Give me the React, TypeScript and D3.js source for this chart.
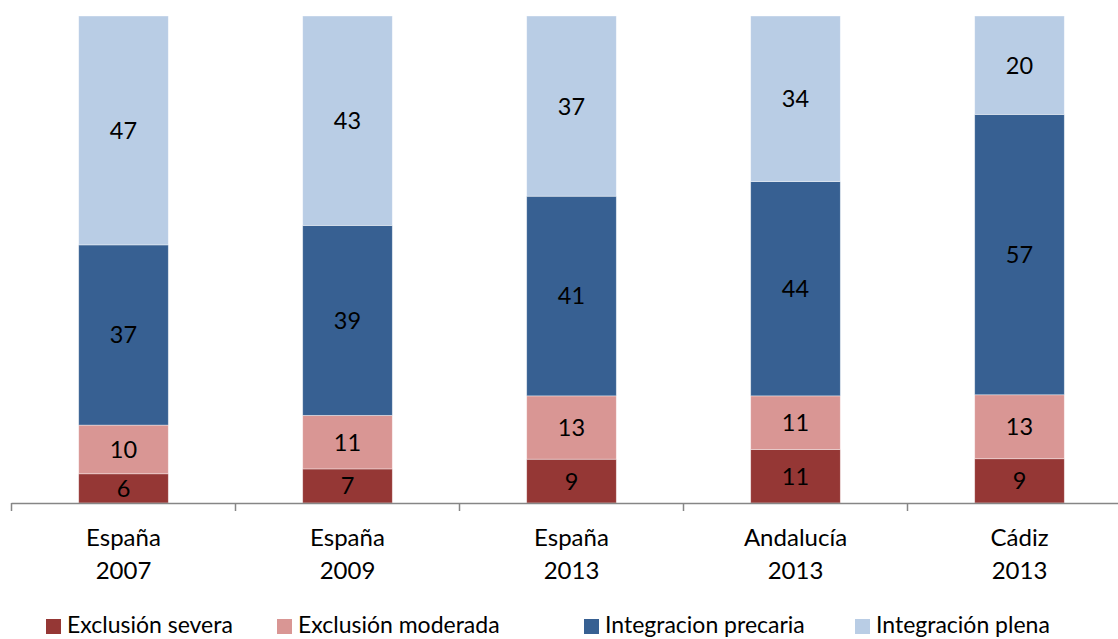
import React from "react";
import * as d3 from "d3";

const categories = [["España", "2007"], ["España", "2009"], ["España", "2013"], ["Andalucía", "2013"], ["Cádiz", "2013"]];
const seriesNames = ["Exclusión severa", "Exclusión moderada", "Integracion precaria", "Integración plena"];
const exclusionSevera = [6, 7, 9, 11, 9];
const exclusionModerada = [10, 11, 13, 11, 13];
const integracionPrecaria = [37, 39, 41, 44, 57];
const integracionPlena = [47, 43, 37, 34, 20];
const colors = ["#953735", "#D99694", "#376092", "#B9CDE5"];

const W = 1118, H = 639;
const FONT = "Lato, 'Open Sans', sans-serif";

export default function App() {
  const seriesValues = [exclusionSevera, exclusionModerada, integracionPrecaria, integracionPlena];
  const rows = categories.map((c, i) => {
    const r: any = { key: i };
    seriesNames.forEach((s, j) => (r[s] = seriesValues[j][i]));
    return r;
  });
  const stack = d3.stack<any>().keys(seriesNames).offset(d3.stackOffsetExpand);
  const stacked = stack(rows);

  const x = d3.scaleBand<number>().domain(d3.range(categories.length)).range([11.5, 1131.5]).paddingInner(0.6).paddingOuter(0.3);
  const y = d3.scaleLinear().domain([0, 1]).range([503, 16]);
  const step = x.step();
  const tickXs = d3.range(categories.length + 1).map((i) => 11.5 + i * step);

  const legendX = [46, 277, 584, 855];

  return (
    <svg width={W} height={H} style={{ position: "absolute", left: 0, top: 0, background: "#fff" }}>
      {stacked.map((s, j) =>
        s.map((d, i) => {
          const x0 = x(i)!;
          const y0 = y(d[1]);
          const y1 = y(d[0]);
          return (
            <g key={`${j}-${i}`}>
              <rect x={x0} y={y0} width={x.bandwidth()} height={y1 - y0} fill={colors[j]} stroke="#ffffff" strokeOpacity={0.5} strokeWidth={0.75} />
              <text x={x0 + x.bandwidth() / 2} y={(y0 + y1) / 2} dy="0.36em" textAnchor="middle" fontFamily={FONT} fontSize={23.5} fill="#000">
                {seriesValues[j][i]}
              </text>
            </g>
          );
        })
      )}
      <line x1={11.5} x2={W} y1={503.5} y2={503.5} stroke="#868686" strokeWidth={1.5} />
      {tickXs.map((tx, i) => (
        <line key={i} x1={tx} x2={tx} y1={503} y2={511} stroke="#868686" strokeWidth={1.5} />
      ))}
      {categories.map((c, i) => (
        <text key={i} textAnchor="middle" fontFamily={FONT} fontSize={24} fill="#000">
          <tspan x={x(i)! + x.bandwidth() / 2} y={546}>{c[0]}</tspan>
          <tspan x={x(i)! + x.bandwidth() / 2} y={579}>{c[1]}</tspan>
        </text>
      ))}
      {seriesNames.map((s, j) => (
        <g key={s}>
          <rect x={legendX[j]} y={619} width={15} height={15} fill={colors[j]} />
          <text x={legendX[j] + 21} y={633} fontFamily={FONT} fontSize={23} fill="#000">{s}</text>
        </g>
      ))}
    </svg>
  );
}
